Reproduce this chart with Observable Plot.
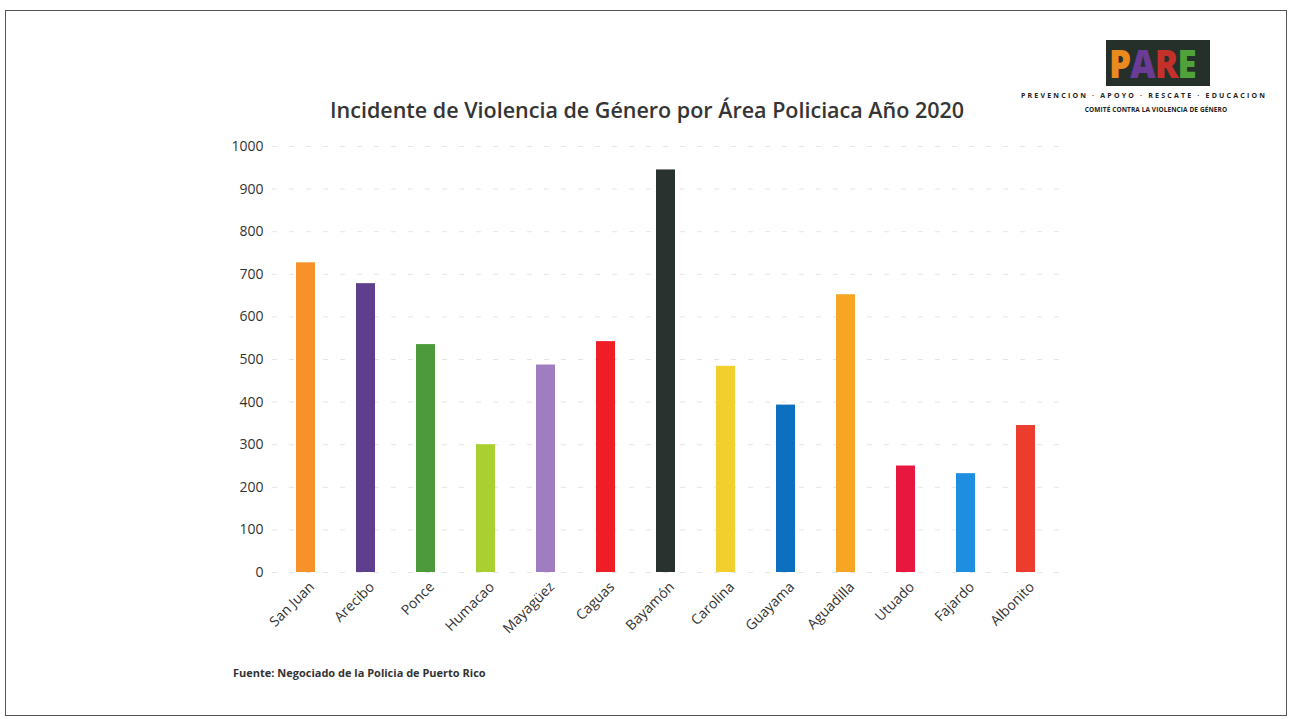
<!DOCTYPE html>
<html>
<head>
<meta charset="utf-8">
<script src="https://cdn.jsdelivr.net/npm/d3@7"></script>
<script src="https://cdn.jsdelivr.net/npm/@observablehq/plot@0.6"></script>
<style>
  html, body { margin: 0; padding: 0; background: #fff; }
  #page { position: relative; width: 1291px; height: 719px; overflow: hidden; background: #fff; font-family: "Open Sans", sans-serif; }
  #frame { position: absolute; left: 5px; top: 10px; width: 1282px; height: 706px; border: 1.5px solid #555; border-left-width: 1px; box-sizing: border-box; }
  #title { position: absolute; left: 330px; top: 95px; white-space: nowrap; font-size: 21.5px; font-weight: 600; color: #353535; }
  #chart { position: absolute; left: 0; top: 130px; }
  #source { position: absolute; left: 233px; top: 665px; font-size: 11px; font-weight: 700; color: #333; }
  #logo { position: absolute; left: 1106px; top: 40px; width: 104px; height: 46px; background: #26302a; }
  #logotext { position: absolute; left: 3px; top: 2px; height: 42px; white-space: nowrap; font-family: "Open Sans", sans-serif; font-weight: 800; font-size: 38px; line-height: 42px; letter-spacing: -1px; transform: scaleX(0.92); transform-origin: left center; }
  #tag1 { position: absolute; left: 1012px; top: 91px; width: 264px; text-align: center; font-size: 7px; font-weight: 700; letter-spacing: 2.2px; color: #222; white-space: nowrap; }
  #tag2 { position: absolute; left: 1076px; top: 105px; width: 160px; text-align: center; font-size: 6.5px; font-weight: 700; letter-spacing: 0.1px; color: #222; white-space: nowrap; }
</style>
</head>
<body>
<div id="page">
  <div id="frame"></div>
  <div id="logo"><div id="logotext"><span style="color:#e88a1e">P</span><span style="color:#6a3c98">A</span><span style="color:#c5302a">R</span><span style="color:#4fa33a">E</span></div></div>
  <div id="tag1">PREVENCION · APOYO · RESCATE · EDUCACION</div>
  <div id="tag2">COMITÉ CONTRA LA VIOLENCIA DE GÉNERO</div>
  <div id="title">Incidente de Violencia de Género por Área Policiaca Año 2020</div>
  <div id="chart"></div>
  <div id="source">Fuente: Negociado de la Policia de Puerto Rico</div>
</div>
<script>
const areas = ["San Juan", "Arecibo", "Ponce", "Humacao", "Mayagüez", "Caguas", "Bayamón", "Carolina", "Guayama", "Aguadilla", "Utuado", "Fajardo", "Albonito"];
const incidents = [727, 678, 535, 300, 487, 542, 945, 484, 393, 652, 250, 232, 345];
const barColors = ["#f7922a", "#5e3f8e", "#4c9a3c", "#a9cf30", "#a07cc0", "#ee1d26", "#29322e", "#f2cf2c", "#0d6fbf", "#f6a623", "#e8173f", "#1e8fe0", "#ec3c2e"];
const yTicks = [0, 100, 200, 300, 400, 500, 600, 700, 800, 900, 1000];

const data = areas.map((a, i) => ({area: a, value: incidents[i], color: barColors[i]}));

const chart = Plot.plot({
  width: 1291,
  height: 512,
  marginTop: 16,
  marginBottom: 70,
  marginLeft: 272,
  marginRight: 231,
  style: {fontFamily: "'Open Sans', sans-serif", fontSize: "14px", color: "#333", background: "transparent"},
  x: {domain: areas, paddingInner: 0.68, paddingOuter: 0.34, label: null},
  y: {domain: [0, 1000], label: null},
  marks: [
    Plot.gridY(yTicks, {stroke: "#aaa", strokeOpacity: 0.3, strokeDasharray: "5,12"}),
    Plot.barY(data, {x: "area", y: "value", fill: "color"}),
    Plot.axisY(yTicks, {tickSize: 0, tickPadding: 9, tickFormat: d => String(d), fontSize: 14, fill: "#333"}),
    Plot.axisX({tickSize: 0, tickPadding: 12, tickRotate: -45, dx: 6, fontSize: 14, fill: "#333"})
  ]
});
document.getElementById("chart").appendChild(chart);
</script>
</body>
</html>
